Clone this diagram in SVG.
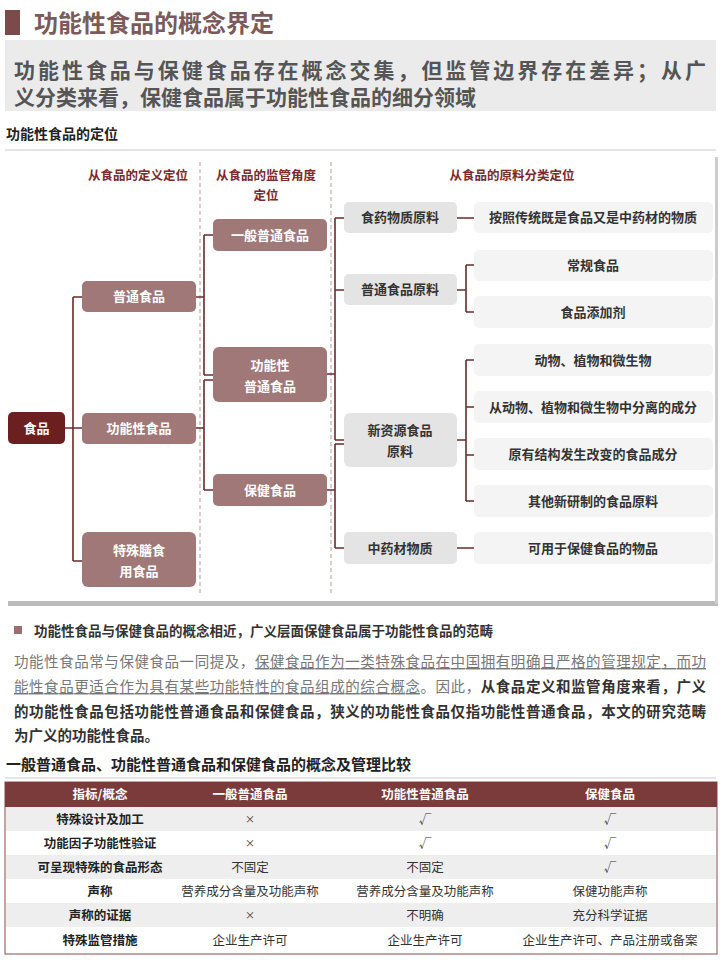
<svg xmlns="http://www.w3.org/2000/svg" width="720" height="960" viewBox="0 0 720 960">
<style>
text{font-family:"Noto Sans CJK SC","Liberation Sans",sans-serif}
.m rect{fill:#a07878}
.m text{fill:#fff;font-size:13px;font-weight:bold;text-anchor:middle}
.g rect{fill:#e4e4e4}
.g text{fill:#333;font-size:13px;font-weight:bold;text-anchor:middle}
.l rect{fill:#f4f4f4}
.l text{fill:#333;font-size:13px;font-weight:bold;text-anchor:middle}
.hd{fill:#7a2a2a;font-size:12.5px;font-weight:bold;text-anchor:middle}
#conn path{fill:none;stroke:#6b2a2a;stroke-width:1.6}
.tc{font-size:12.5px;fill:#333;text-anchor:middle}
.tx{font-size:10px;fill:#333;text-anchor:middle}
.tb{font-size:12.5px;fill:#222;font-weight:bold;text-anchor:middle}
.th{font-size:12.5px;fill:#fff;font-weight:bold;text-anchor:middle}
</style>
<rect width="720" height="960" fill="#fff"/>
<rect x="5" y="10" width="15" height="25" fill="#7b4a4a"/>
<text x="34" y="32" font-size="24" font-weight="bold" fill="#7b5a5a">功能性食品的概念界定</text>
<rect x="5" y="40" width="711" height="71" fill="#ebebeb"/>
<text x="14" y="78" font-size="21" font-weight="bold" fill="#555" textLength="692">功能性食品与保健食品存在概念交集，但监管边界存在差异；从广</text>
<text x="14" y="105" font-size="21" font-weight="bold" fill="#555">义分类来看，保健食品属于功能性食品的细分领域</text>
<text x="6" y="139" font-size="14" fill="#222" font-weight="bold">功能性食品的定位</text>
<line x1="5" y1="150" x2="716" y2="150" stroke="#ccc"/>
<rect x="6" y="155" width="711" height="447" fill="#fff"/>
<rect x="8" y="601" width="710" height="5" fill="#bbb"/>
<rect x="715" y="157" width="3" height="447" fill="#ccc"/>
<line x1="200" y1="162" x2="200" y2="595" stroke="#b99" stroke-dasharray="4,3"/>
<line x1="331" y1="162" x2="331" y2="595" stroke="#b99" stroke-dasharray="4,3"/>
<text class="hd" x="138" y="180">从食品的定义定位</text>
<text class="hd" x="266" y="180">从食品的监管角度</text>
<text class="hd" x="266" y="200">定位</text>
<text class="hd" x="512" y="180">从食品的原料分类定位</text>
<g id="conn">
<path d="M65 428H82M73 297V561M73 297H82M73 561H82"/>
<path d="M196 297H204M204 235V375M204 235H213M204 375H213"/>
<path d="M196 428H204M204 380V490M204 380H213M204 490H213"/>
<path d="M327 374H335M335 218V440M335 218H344M335 290H344M335 440H344"/>
<path d="M327 490H335M335 444V548M335 444H344M335 548H344"/>
<path d="M457 218H474M457 548H474"/>
<path d="M457 290H466M466 265V312M466 265H474M466 312H474"/>
<path d="M457 440H466M466 360V501M466 360H474M466 407H474M466 455H474M466 501H474"/>
</g>
<g id="n-food"><rect x="8" y="412" width="57" height="32" rx="5" fill="#6b1f1f"/><text x="36.5" y="433" fill="#fff" font-size="13" font-weight="bold" text-anchor="middle">食品</text></g>
<g id="n-pt" class="m"><rect x="82" y="281" width="114" height="31" rx="5"/><text x="139" y="301">普通食品</text></g>
<g id="n-gn" class="m"><rect x="82" y="413" width="114" height="31" rx="5"/><text x="139" y="433">功能性食品</text></g>
<g id="n-ts" class="m"><rect x="82" y="532" width="114" height="55" rx="6"/><text x="139" y="555">特殊膳食</text><text x="139" y="576">用食品</text></g>
<g id="n-yb" class="m"><rect x="213" y="219" width="114" height="32" rx="5"/><text x="270" y="240">一般普通食品</text></g>
<g id="n-gnpt" class="m"><rect x="213" y="347" width="114" height="55" rx="6"/><text x="270" y="370">功能性</text><text x="270" y="391">普通食品</text></g>
<g id="n-bj" class="m"><rect x="213" y="474" width="114" height="32" rx="5"/><text x="270" y="495">保健食品</text></g>
<g id="n-sy" class="g"><rect x="344" y="202" width="113" height="31" rx="5"/><text x="400" y="222">食药物质原料</text></g>
<g id="n-ptyl" class="g"><rect x="344" y="274" width="113" height="31" rx="5"/><text x="400" y="294">普通食品原料</text></g>
<g id="n-xzy" class="g"><rect x="344" y="413" width="113" height="54" rx="6"/><text x="400" y="435">新资源食品</text><text x="400" y="456">原料</text></g>
<g id="n-zyc" class="g"><rect x="344" y="532" width="113" height="32" rx="5"/><text x="400" y="553">中药材物质</text></g>
<g id="r1" class="l"><rect x="474" y="202" width="239" height="31" rx="5"/><text x="593" y="222">按照传统既是食品又是中药材的物质</text></g>
<g id="r2" class="l"><rect x="474" y="250" width="239" height="31" rx="5"/><text x="593" y="270">常规食品</text></g>
<g id="r3" class="l"><rect x="474" y="296" width="239" height="32" rx="5"/><text x="593" y="317">食品添加剂</text></g>
<g id="r4" class="l"><rect x="474" y="344" width="239" height="32" rx="5"/><text x="593" y="365">动物、植物和微生物</text></g>
<g id="r5" class="l"><rect x="474" y="391" width="239" height="32" rx="5"/><text x="593" y="412">从动物、植物和微生物中分离的成分</text></g>
<g id="r6" class="l"><rect x="474" y="438" width="239" height="32" rx="5"/><text x="593" y="459">原有结构发生改变的食品成分</text></g>
<g id="r7" class="l"><rect x="474" y="485" width="239" height="32" rx="5"/><text x="593" y="506">其他新研制的食品原料</text></g>
<g id="r8" class="l"><rect x="474" y="532" width="239" height="32" rx="5"/><text x="593" y="553">可用于保健食品的物品</text></g>
<rect x="14" y="626" width="8" height="8" fill="#9b6f6f"/>
<text x="34" y="636" font-size="13.5" font-weight="bold" fill="#333">功能性食品与保健食品的概念相近，广义层面保健食品属于功能性食品的范畴</text>
<g font-size="14.5">
<text x="14" y="667" textLength="692" lengthAdjust="spacing" fill="#777">功能性食品常与保健食品一同提及，<tspan text-decoration="underline">保健食品作为一类特殊食品在中国拥有明确且严格的管理规定，而功</tspan></text>
<text x="14" y="692" textLength="692" lengthAdjust="spacing" fill="#777"><tspan text-decoration="underline">能性食品更适合作为具有某些功能特性的食品组成的综合概念</tspan>。因此，<tspan fill="#333" font-weight="bold">从食品定义和监管角度来看，广义</tspan></text>
<text x="14" y="717" textLength="692" lengthAdjust="spacing" fill="#333" font-weight="bold">的功能性食品包括功能性普通食品和保健食品，狭义的功能性食品仅指功能性普通食品，本文的研究范畴</text>
<text x="14" y="741" fill="#333" font-weight="bold">为广义的功能性食品。</text>
</g>
<text x="6" y="770" font-size="15" font-weight="bold" fill="#222">一般普通食品、功能性普通食品和保健食品的概念及管理比较</text>
<line x1="5" y1="778" x2="716" y2="778" stroke="#ccc"/>
<g id="table">
<rect x="5" y="782" width="712" height="172" fill="#fff" stroke="#8a4a4a"/>
<rect x="5" y="782" width="712" height="25" fill="#7b3b3b"/>
<rect x="6" y="807" width="710" height="24" fill="#eeeeee"/>
<rect x="6" y="855" width="710" height="24" fill="#eeeeee"/>
<rect x="6" y="903" width="710" height="24" fill="#eeeeee"/>
<text class="th" x="100" y="799">指标/概念</text><text class="th" x="250" y="799">一般普通食品</text><text class="th" x="425" y="799">功能性普通食品</text><text class="th" x="610" y="799">保健食品</text>
<text class="tb" x="100" y="824">特殊设计及加工</text><text class="tx" x="250" y="823">×</text><text class="tc" x="425" y="824">√</text><text class="tc" x="610" y="824">√</text>
<text class="tb" x="100" y="848">功能因子功能性验证</text><text class="tx" x="250" y="847">×</text><text class="tc" x="425" y="848">√</text><text class="tc" x="610" y="848">√</text>
<text class="tb" x="100" y="872">可呈现特殊的食品形态</text><text class="tc" x="250" y="872">不固定</text><text class="tc" x="425" y="872">不固定</text><text class="tc" x="610" y="872">√</text>
<text class="tb" x="100" y="896">声称</text><text class="tc" x="250" y="896">营养成分含量及功能声称</text><text class="tc" x="425" y="896">营养成分含量及功能声称</text><text class="tc" x="610" y="896">保健功能声称</text>
<text class="tb" x="100" y="920">声称的证据</text><text class="tx" x="250" y="919">×</text><text class="tc" x="425" y="920">不明确</text><text class="tc" x="610" y="920">充分科学证据</text>
<text class="tb" x="100" y="945">特殊监管措施</text><text class="tc" x="250" y="945">企业生产许可</text><text class="tc" x="425" y="945">企业生产许可</text><text class="tc" x="610" y="945">企业生产许可、产品注册或备案</text>
</g>
</svg>
